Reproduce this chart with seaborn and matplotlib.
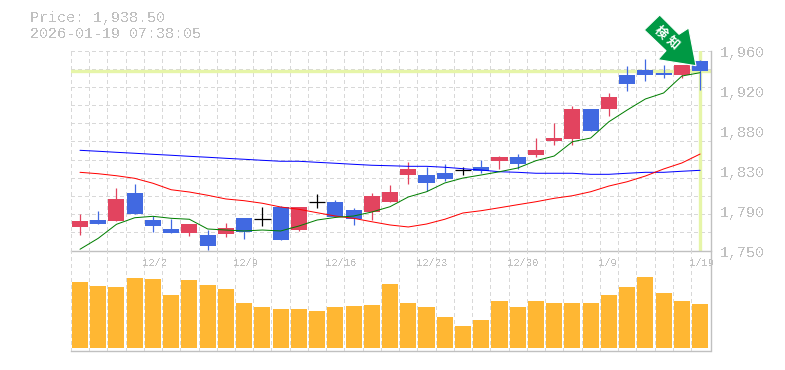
import matplotlib
matplotlib.use('Agg')
import matplotlib.pyplot as plt
from matplotlib.patches import Polygon
import seaborn as sns
import pandas as pd

# ローソク足 (始値, 終値, 高値, 安値)
opens = [1774.7, 1782.0, 1781.0, 1810.4, 1782.0, 1772.6, 1768.4, 1766.3, 1767.3, 1784.1,
         1782.6, 1795.7, 1771.5, 1800.9, 1800.9, 1792.5, 1790.4, 1800.9, 1829.3, 1829.3,
         1831.4, 1834.5, 1837.7, 1844.0, 1848.2, 1850.3, 1865.0, 1867.1, 1898.6, 1898.6,
         1934.3, 1939.5, 1936.4, 1934.3, 1949.0]
closes = [1781.0, 1777.8, 1804.1, 1788.3, 1775.7, 1768.4, 1777.8, 1754.7, 1773.6, 1769.4,
          1782.6, 1761.0, 1795.7, 1800.9, 1785.2, 1783.1, 1807.2, 1811.4, 1835.6, 1820.9,
          1825.1, 1834.5, 1833.5, 1848.2, 1840.8, 1855.5, 1868.1, 1898.6, 1875.5, 1911.2,
          1924.8, 1934.3, 1934.3, 1944.5, 1938.5]
highs = [1788.3, 1791.5, 1815.6, 1819.8, 1786.2, 1783.1, 1777.8, 1771.5, 1778.9, 1784.1,
         1795.7, 1796.7, 1795.7, 1809.3, 1803.0, 1794.6, 1810.4, 1818.8, 1842.9, 1837.7,
         1840.8, 1837.7, 1845.0, 1849.2, 1851.3, 1868.1, 1883.9, 1901.7, 1898.6, 1915.4,
         1943.7, 1951.1, 1944.8, 1944.8, 1950.0]
lows = [1766.3, 1777.8, 1781.0, 1788.3, 1769.4, 1768.4, 1765.2, 1750.5, 1764.2, 1762.1,
        1775.7, 1761.0, 1770.5, 1794.6, 1785.2, 1776.8, 1782.0, 1800.9, 1819.8, 1812.5,
        1823.0, 1829.3, 1831.4, 1835.6, 1835.6, 1848.2, 1860.8, 1860.8, 1875.5, 1891.2,
        1917.5, 1928.0, 1931.1, 1931.1, 1918.5]

# 移動平均線
ma_short = [1751.3, 1762.8, 1777.5, 1784.4, 1785.9, 1783.8, 1782.8, 1772.6, 1771.5, 1770.5,
            1771.5, 1770.5, 1775.7, 1782.0, 1784.7, 1786.2, 1790.4, 1796.0, 1806.2, 1811.7,
            1820.9, 1826.1, 1829.3, 1832.7, 1836.6, 1844.3, 1849.2, 1864.2, 1868.1, 1885.2,
            1897.5, 1909.1, 1915.4, 1933.2, 1936.7]
ma_mid = [1832.1, 1830.6, 1828.5, 1825.8, 1820.6, 1813.8, 1811.4, 1808.0, 1804.1, 1802.3,
          1799.6, 1795.7, 1793.3, 1789.7, 1786.2, 1783.8, 1780.2, 1776.8, 1774.7, 1777.8,
          1782.8, 1789.4, 1791.8, 1794.9, 1798.1, 1801.2, 1804.8, 1807.5, 1811.7, 1817.7,
          1822.2, 1828.2, 1835.6, 1841.9, 1851.3]
ma_long = [1855.2, 1854.2, 1853.1, 1852.1, 1851.0, 1850.0, 1848.9, 1847.9, 1846.8, 1845.8,
           1844.7, 1843.7, 1843.7, 1842.6, 1841.6, 1840.5, 1839.5, 1839.0, 1838.4, 1838.4,
           1837.4, 1835.9, 1834.5, 1832.7, 1832.1, 1831.1, 1831.1, 1831.1, 1830.0, 1830.0,
           1831.1, 1832.1, 1832.1, 1833.2, 1834.2]

volume = [66, 62, 61, 70, 69, 53, 68, 63, 59, 45, 41, 39, 39, 37, 41, 42, 43, 64,
          45, 41, 31, 22, 28, 47, 41, 47, 45, 45, 45, 53, 61, 71, 55, 47, 44]

price_now = 1938.5
y_labels = ['1,960', '1,920', '1,880', '1,830', '1,790', '1,750']
date_pos = [4, 9, 14, 19, 24, 29, 34]
date_labels = ['12/2', '12/9', '12/16', '12/23', '12/30', '1/9', '1/19']

RED = '#E2445F'
BLUE = '#4169E1'
GRAY = '#C0C0C0'
GRID = '#D8D8D8'
HILITE = '#E6F5A8'
ORANGE = '#FFB733'
W, H = 785, 370
DASH = (0, (3, 3))
PX = 0.72  # 1px in points

sns.set_theme(style='white')
plt.rcParams['font.family'] = ['Liberation Mono', 'DejaVu Sans Mono']
plt.rcParams['text.antialiased'] = False

fig = plt.figure(figsize=(W / 100, H / 100), dpi=100, facecolor='white')


def panel(left, top, right, bottom):
    return fig.add_axes([left / W, 1 - bottom / H, (right - left) / W, (bottom - top) / H])


ax = panel(70.5, 50.5, 710.5, 250.5)
ax_vol = panel(70.5, 250.5, 710.5, 350.5)

x = list(range(len(opens)))
xlim = (-0.52, 34.57)
# 縦グリッドは足の間、横グリッドは200pxを11分割
v_grid = [i - 0.5 for i in range(0, 36)]
h_grid = [1750 + 210 * k / 11 for k in range(12)]

for a in (ax, ax_vol):
    a.set_xlim(xlim)
    for v in v_grid[:-1]:
        a.axvline(v, color=GRID, lw=PX, ls=DASH, zorder=0, antialiased=False)
    a.tick_params(left=False, bottom=False, right=False, labelleft=False, labelbottom=False)
    for s in a.spines.values():
        s.set_visible(False)
    for side in ('right', 'bottom'):
        a.spines[side].set_visible(True)
        a.spines[side].set_color(GRAY)
        a.spines[side].set_linewidth(1.0)
    a.patch.set_alpha(0)

ax.set_ylim(1750, 1960)
for h in h_grid[1:]:
    ax.axhline(h, color=GRID, lw=PX, ls=DASH, zorder=0, antialiased=False)

# 現在値のハイライト
ax.axhline(price_now, color=HILITE, lw=2.4, zorder=1)
ax.axvline(34, color=HILITE, lw=2.4, zorder=1)

# ローソク足
for i in x:
    o, c = opens[i], closes[i]
    col = 'black' if o == c else (RED if c > o else BLUE)
    ax.vlines(i, lows[i], highs[i], color=col, lw=0.9, zorder=3)
    if o == c:
        ax.hlines(o, i - 0.45, i + 0.45, color=col, lw=0.9, zorder=3)
    else:
        ax.bar(i, abs(c - o), bottom=min(o, c), width=0.88, color=col, lw=0, zorder=3)

df = pd.DataFrame({'x': x, 'short': ma_short, 'mid': ma_mid, 'long': ma_long, 'vol': volume})
sns.lineplot(data=df, x='x', y='long', color='#0000FF', linewidth=PX, ax=ax, zorder=4)
sns.lineplot(data=df, x='x', y='mid', color='#FF0000', linewidth=PX, ax=ax, zorder=4)
sns.lineplot(data=df, x='x', y='short', color='#007F00', linewidth=PX, ax=ax, zorder=4)
ax.set_xlim(xlim)
ax.set_ylim(1750, 1960)
ax.set_xlabel('')
ax.set_ylabel('')

# 出来高
sns.barplot(data=df, x='x', y='vol', native_scale=True, color=ORANGE, saturation=1, width=0.88,
            ax=ax_vol, zorder=2, linewidth=0)
ax_vol.set_xlim(xlim)
ax_vol.set_ylim(-2.4, 97.6)
ax_vol.set_xlabel('')
ax_vol.set_ylabel('')

# 価格ラベルはグリッドと揃わないのでピクセル位置で置く
for i, lab in enumerate(y_labels):
    fig.text(720 / W, 1 - (53.5 + 40 * i) / H, lab, color=GRAY, fontsize=10.8, ha='left', va='center')
for p, lab in zip(date_pos, date_labels):
    ax_vol.annotate(lab, (p, 1), xycoords=('data', 'axes fraction'), xytext=(-7.5, -9),
                    textcoords='offset points', color=GRAY, fontsize=7.6, ha='left', va='center')

fig.text(30 / W, 1 - 18 / H, 'Price: 1,938.50', color=GRAY, fontsize=10.8, ha='left', va='center')
fig.text(30 / W, 1 - 33.5 / H, '2026-01-19 07:38:05', color=GRAY, fontsize=10.8, ha='left', va='center')

# 矢印アイコン
arrow_px = [(659.7, 15), (679, 34.3), (688.7, 28), (696, 65.7), (658, 59.7), (666, 50.7), (644.3, 30)]
arrow_fig = [(px / W, 1 - py / H) for px, py in arrow_px]
fig.add_artist(Polygon(arrow_fig, closed=True, transform=fig.transFigure, facecolor='#009944',
                       edgecolor='white', lw=0.8, zorder=10))
for ch, cx, cy in [('検', 660.7, 32.7), ('知', 673, 42.7)]:
    fig.text(cx / W, 1 - cy / H, ch, color='white', fontsize=9, rotation=-42, ha='center', va='center',
             rotation_mode='anchor', family=['Noto Sans CJK JP', 'DejaVu Sans'], fontweight='bold',
             zorder=11, antialiased=True)

fig.savefig('out.png', dpi=100)
